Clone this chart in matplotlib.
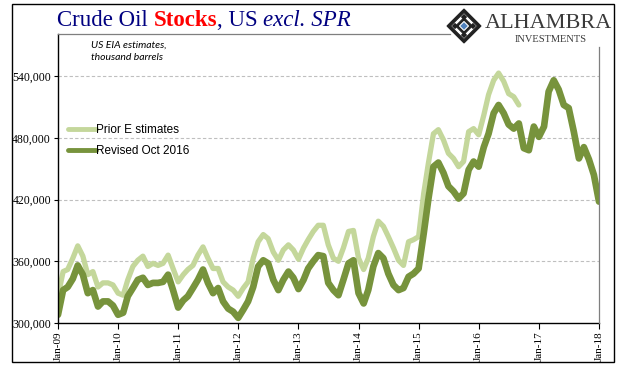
import numpy as np
import pandas as pd
import matplotlib
matplotlib.use('Agg')
import matplotlib.pyplot as plt
from matplotlib.patches import Rectangle, Polygon
from matplotlib.lines import Line2D
from matplotlib.ticker import FuncFormatter

# crude oil stocks excl. SPR, thousand barrels (monthly readings)
revised = [
    308, 332, 335, 343, 356, 347, 329, 332, 316, 321, 321, 317,      # 2009
    308, 310, 326, 334, 342, 344, 337, 339, 339, 340, 347, 332,      # 2010
    315, 322, 326, 334, 342, 352, 339, 329, 334, 321, 314, 311,      # 2011
    305, 313, 321, 335, 355, 361, 358, 342, 332, 342, 350, 344,      # 2012
    333, 342, 353, 360, 366, 365, 339, 332, 327, 342, 358, 361,      # 2013
    329, 319, 332, 355, 368, 363, 348, 337, 332, 334, 345, 348,      # 2014
    353, 387, 420, 452, 456, 446, 433, 428, 421, 426, 449, 457,      # 2015
    452, 471, 484, 504, 512, 504, 493, 489, 494, 470, 468, 491,      # 2016
    481, 491, 525, 536, 527, 512, 509, 486, 460, 471, 459, 444,      # 2017
    418,                                                             # 2018
]
prior = [
    326, 350, 352, 363, 375, 365, 347, 350, 335, 339, 339, 337,      # 2009
    329, 327, 342, 355, 361, 365, 355, 358, 356, 358, 366, 353,      # 2010
    340, 347, 352, 356, 366, 374, 363, 353, 353, 340, 335, 332,      # 2011
    326, 334, 340, 363, 379, 386, 382, 369, 361, 371, 376, 371,      # 2012
    362, 373, 381, 389, 395, 395, 376, 363, 360, 373, 389, 390,      # 2013
    363, 352, 363, 384, 399, 394, 384, 373, 361, 356, 379, 381,      # 2014
    384, 426, 455, 484, 488, 478, 465, 460, 452, 457, 486, 489,      # 2015
    483, 502, 522, 536, 543, 535, 523, 520, 512,                     # 2016
]
revised_dates = pd.date_range('2009-01-01', periods=len(revised), freq='MS')
prior_dates = pd.date_range('2009-01-01', periods=len(prior), freq='MS')

y_ticks = [300000, 360000, 420000, 480000, 540000]
x_tick_years = list(range(2009, 2019))

W, H = 641, 381
fig = plt.figure(figsize=(W / 100, H / 100), dpi=100)

# main plot area (pixel box 58..599 x 34..323)
ax = fig.add_axes([58 / W, 1 - 323 / H, (599 - 58) / W, (323 - 34) / H])
ax.plot(prior_dates, np.array(prior) * 1000, color='#C4D79B', lw=3.8,
        solid_capstyle='round', solid_joinstyle='round', label='Prior E stimates')
ax.plot(revised_dates, np.array(revised) * 1000, color='#77933C', lw=4.8,
        solid_capstyle='round', solid_joinstyle='round', label='Revised Oct 2016')

ax.set_ylim(300000, 581000)
ax.set_xlim(pd.Timestamp('2009-01-01'), pd.Timestamp('2018-01-01'))
ax.set_yticks(y_ticks)
ax.yaxis.set_major_formatter(FuncFormatter(lambda v, p: f'{int(v):,}'))
for v in y_ticks[1:]:
    ax.axhline(v, color='#BFBFBF', lw=0.8, dashes=(3, 2), zorder=0)

xt = [pd.Timestamp(f'{y}-01-01') for y in x_tick_years]
ax.set_xticks(xt)
ax.set_xticklabels([f'Jan-{y % 100:02d}' for y in x_tick_years], rotation=90)
ax.tick_params(axis='x', direction='out', length=4, width=0.8, pad=2,
               labelsize=8, labelfontfamily='Liberation Serif')
ax.tick_params(axis='y', direction='out', length=3, width=0.8, pad=2,
               labelsize=8.5, labelfontfamily='Liberation Serif')
for s in ['top', 'right']:
    ax.spines[s].set_visible(False)
ax.spines['left'].set_linewidth(1.0)
ax.spines['bottom'].set_linewidth(1.0)

leg = ax.legend(loc='upper left', bbox_to_anchor=(68 / W, 1 - 124 / H),
                bbox_transform=fig.transFigure, frameon=False,
                prop={'family': 'Liberation Sans', 'size': 8.5},
                handlelength=2.4, handletextpad=0.0, labelspacing=0.75,
                borderpad=0, borderaxespad=0)
for h in leg.get_lines():
    h.set_linewidth(3.5)

# overlay in pixel coordinates for frame, title and logo
ov = fig.add_axes([0, 0, 1, 1])
ov.set_xlim(0, W)
ov.set_ylim(H, 0)
ov.axis('off')
ov.patch.set_alpha(0)

ov.add_patch(Rectangle((12, 4), 602, 358, fill=False, ec='black', lw=1.0))
ov.add_line(Line2D([58, 450], [34, 34], color='#7F7F7F', lw=0.9))
ov.add_line(Line2D([599, 599], [47, 323], color='#7F7F7F', lw=0.9))

# title built from pieces with different styles
renderer = fig.canvas.get_renderer()
pieces = [('Crude Oil ', '#000080', 'normal', 'normal'),
          ('Stocks', '#FF0000', 'bold', 'normal'),
          (', US ', '#000080', 'normal', 'normal'),
          ('excl. SPR', '#000080', 'normal', 'italic')]
x = 57
for txt, col, wt, st in pieces:
    t = ov.text(x, 26, txt, color=col, fontsize=16.5, fontweight=wt, fontstyle=st,
                family='Liberation Serif', va='baseline', ha='left')
    bb = t.get_window_extent(renderer=renderer)
    x += bb.width

ov.text(91, 45, 'US EIA estimates,', fontsize=7.5, style='italic',
        family='Lato', va='center', ha='left', color='black')
ov.text(91, 58, 'thousand barrels', fontsize=7.5, style='italic',
        family='Lato', va='center', ha='left', color='black')

# logo: lattice diamond
cx, cy, r = 464, 26, 17
ov.add_patch(Polygon([(cx, cy - r), (cx + r, cy), (cx, cy + r), (cx - r, cy)],
                     closed=True, fc='#222222', ec='#222222', lw=0.8))
for k in [0.78, 0.5]:
    rr = r * k
    ov.add_patch(Polygon([(cx, cy - rr), (cx + rr, cy), (cx, cy + rr), (cx - rr, cy)],
                         closed=True, fc='white' if k == 0.78 else '#222222',
                         ec='#222222', lw=0.6))
for dx, dy in [(0, -9), (9, 0), (0, 9), (-9, 0)]:
    rr = 3.2
    ov.add_patch(Polygon([(cx + dx, cy + dy - rr), (cx + dx + rr, cy + dy),
                          (cx + dx, cy + dy + rr), (cx + dx - rr, cy + dy)],
                         closed=True, fc='#222222', ec='none'))
rr = 4.5
ov.add_patch(Polygon([(cx, cy - rr), (cx + rr, cy), (cx, cy + rr), (cx - rr, cy)],
                     closed=True, fc='#4F81BD', ec='white', lw=0.8))
ov.text(548, 23, 'ALHAMBRA', fontsize=16, family='Liberation Serif',
        color='#3A3A3A', ha='center', va='center')
ov.text(551, 40, 'INVESTMENTS', fontsize=7.5, family='Liberation Serif',
        color='#3A3A3A', ha='center', va='center')

fig.savefig('out.png', dpi=100)
